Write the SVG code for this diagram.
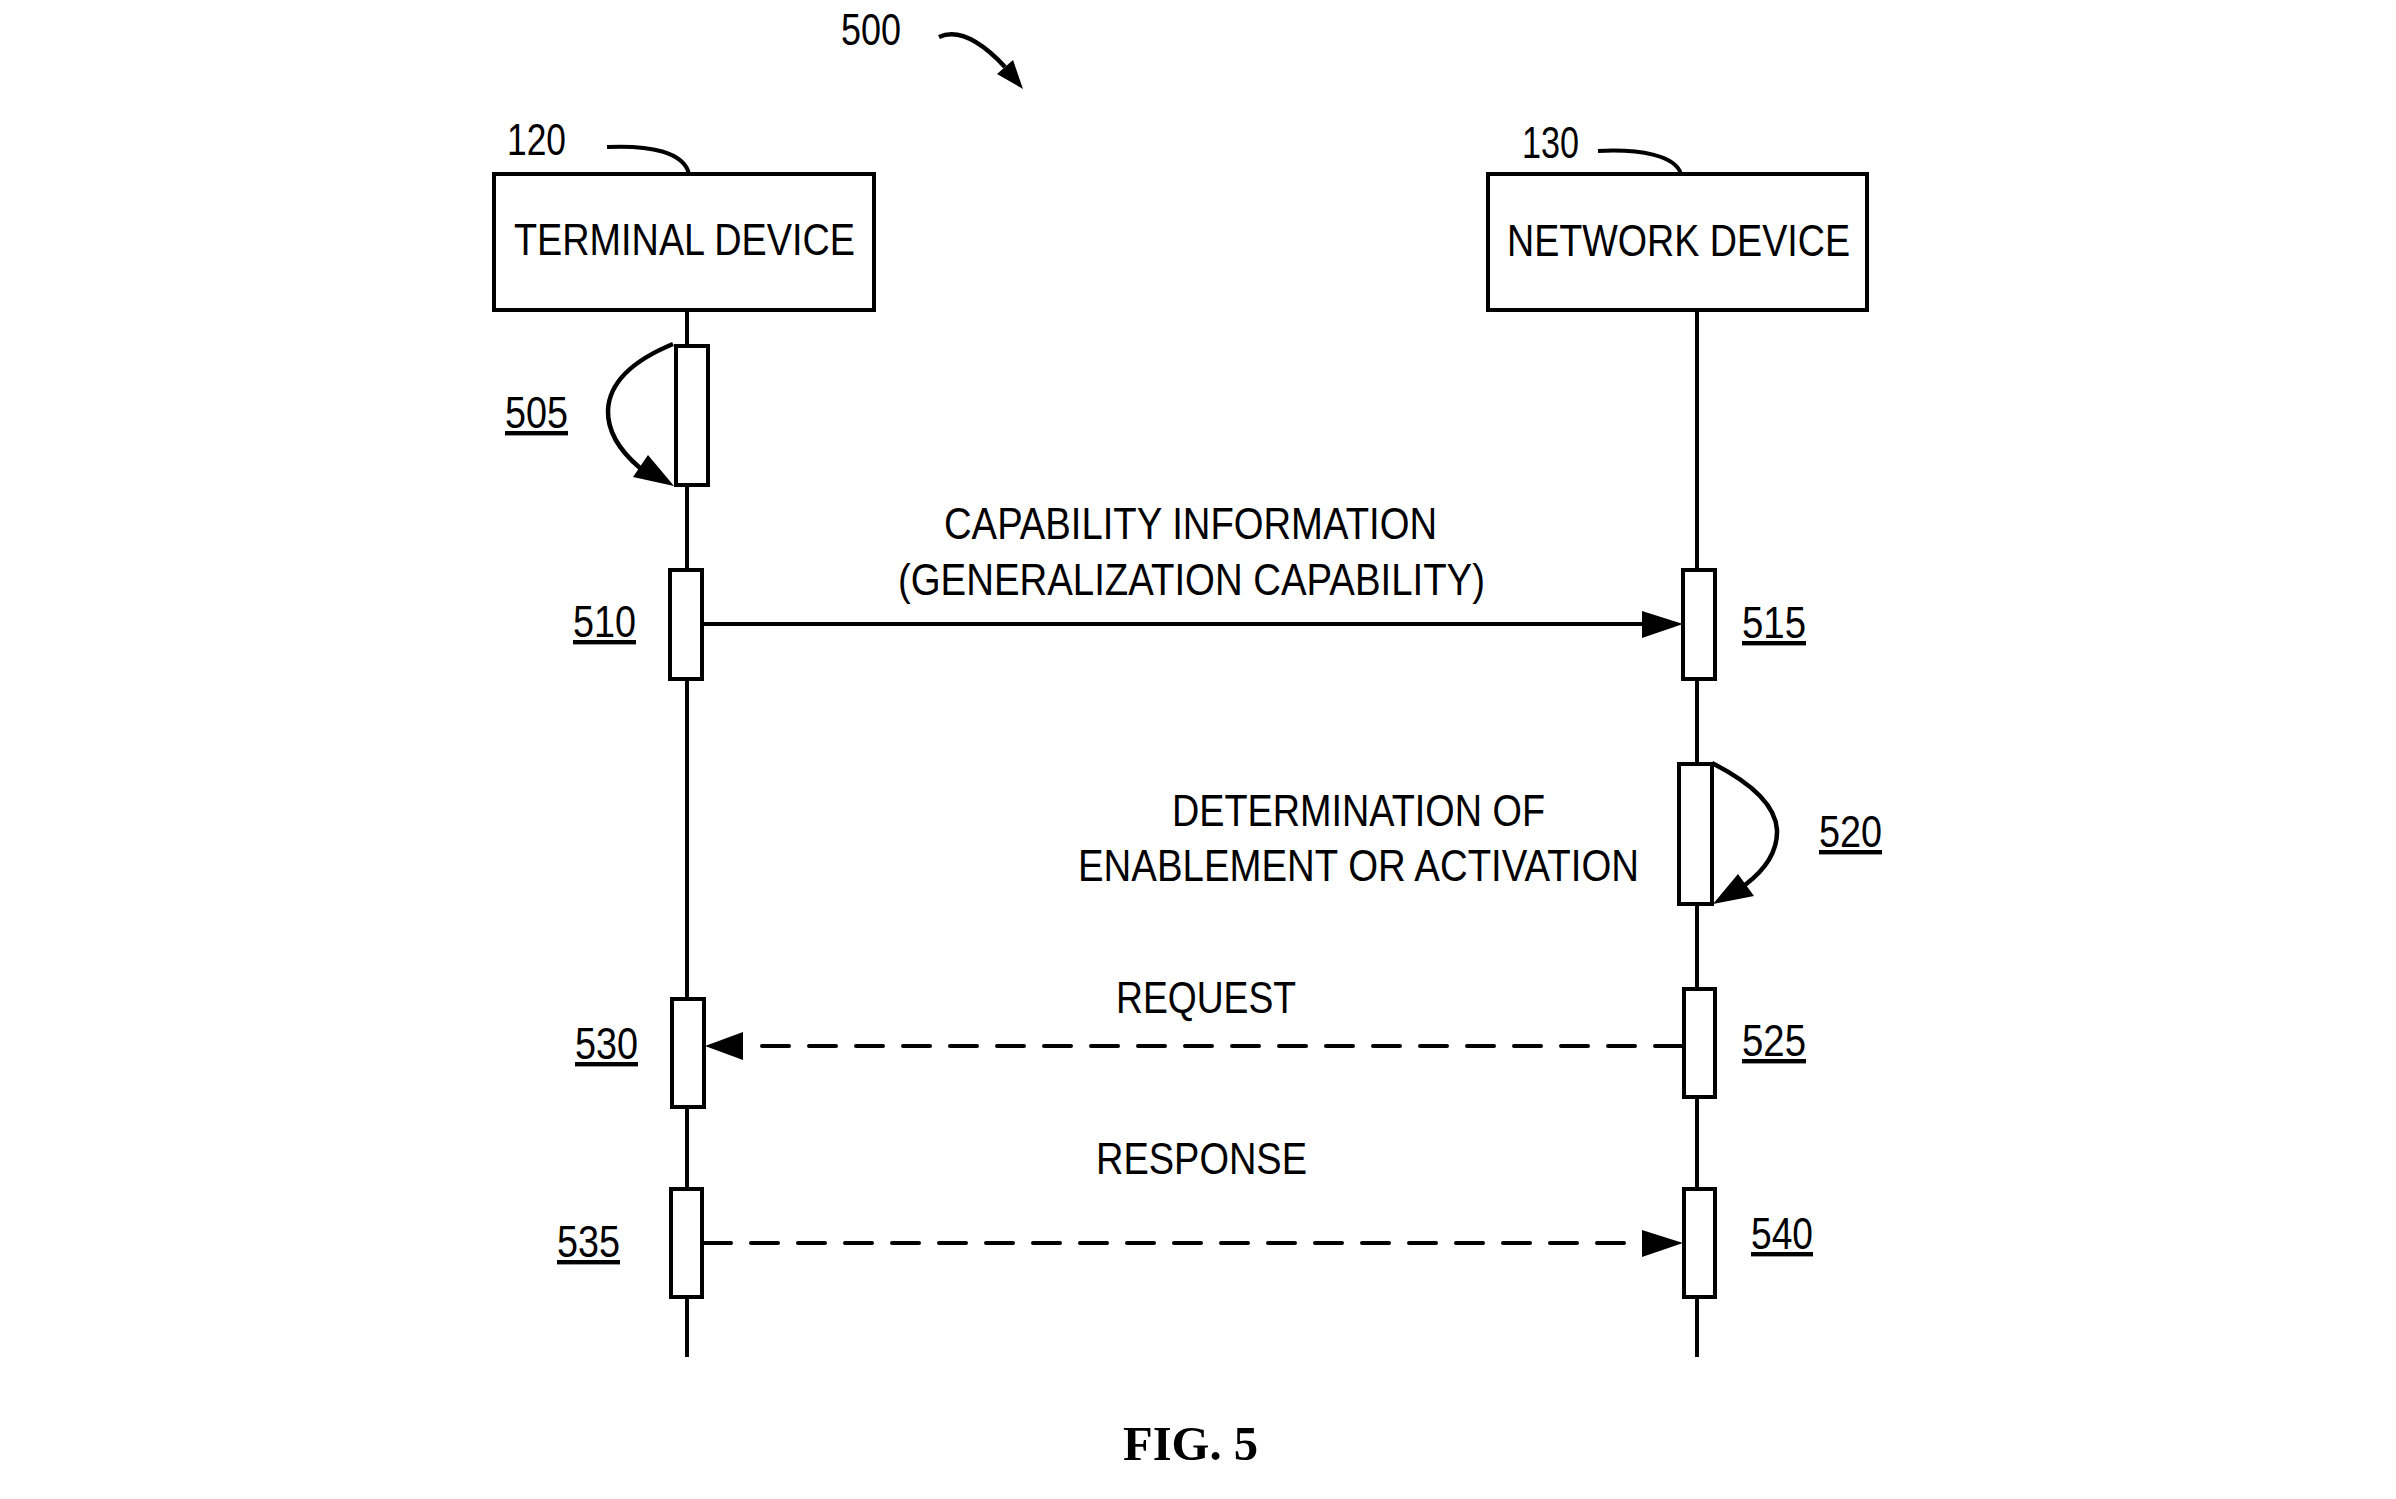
<svg xmlns="http://www.w3.org/2000/svg" width="2396" height="1499" viewBox="0 0 2396 1499">
<style>
.t{font-family:"Liberation Sans",Arial,sans-serif;font-size:44px;fill:#000}
.u{text-decoration:underline}
.box{fill:#fff;stroke:#000;stroke-width:4}
.act{fill:#fff;stroke:#000;stroke-width:4}
.ln{fill:none;stroke:#000;stroke-width:4}
.dash{fill:none;stroke:#000;stroke-width:4;stroke-dasharray:27 20;stroke-linecap:round}
.cur{fill:none;stroke:#000;stroke-width:4.5}
.fig{font-family:"Liberation Serif","Times New Roman",serif;font-size:48px;font-weight:bold;fill:#000}
</style>
<rect width="2396" height="1499" fill="#fff"/>
<g id="ref500">
<text class="t" x="841" y="45" textLength="60" lengthAdjust="spacingAndGlyphs">500</text>
<path class="cur" d="M939 37 C957 29 978 38 1005 67"/>
<polygon points="1023,89 997,74 1013,60"/>
</g>
<g id="lifelines">
<line class="ln" x1="687" y1="310" x2="687" y2="1357"/>
<line class="ln" x1="1697" y1="310" x2="1697" y2="1357"/>
</g>
<g id="terminal">
<rect class="box" x="494" y="174" width="380" height="136"/>
<text class="t" x="514" y="255" textLength="341" lengthAdjust="spacingAndGlyphs">TERMINAL DEVICE</text>
<text class="t" x="507" y="155" textLength="59" lengthAdjust="spacingAndGlyphs">120</text>
<path class="ln" d="M607 147 C650 145 684 152 689 174"/>
</g>
<g id="network">
<rect class="box" x="1488" y="174" width="379" height="136"/>
<text class="t" x="1507" y="256" textLength="343" lengthAdjust="spacingAndGlyphs">NETWORK DEVICE</text>
<text class="t" x="1522" y="158" textLength="57" lengthAdjust="spacingAndGlyphs">130</text>
<path class="ln" d="M1598 151 C1640 149 1675 155 1681 174"/>
</g>
<g id="step505">
<rect class="act" x="676" y="346" width="32" height="139"/>
<path class="cur" d="M673 344 Q610 370 608 410 Q607 440 640 468"/>
<polygon points="674,486 633,477 648,455"/>
<text class="t u" x="505" y="428" textLength="63" lengthAdjust="spacingAndGlyphs">505</text>
</g>
<g id="step510">
<rect class="act" x="670" y="570" width="32" height="109"/>
<text class="t u" x="573" y="637" textLength="63" lengthAdjust="spacingAndGlyphs">510</text>
</g>
<g id="step515">
<rect class="act" x="1683" y="570" width="32" height="109"/>
<text class="t u" x="1742" y="638" textLength="64" lengthAdjust="spacingAndGlyphs">515</text>
</g>
<g id="step520">
<rect class="act" x="1679" y="764" width="33" height="140"/>
<path class="cur" d="M1712 763 Q1775 795 1777 830 Q1778 860 1745 885"/>
<polygon points="1713,904 1738,874 1754,896"/>
<text class="t u" x="1819" y="847" textLength="63" lengthAdjust="spacingAndGlyphs">520</text>
<text class="t" x="1172" y="826" textLength="373" lengthAdjust="spacingAndGlyphs">DETERMINATION OF</text>
<text class="t" x="1078" y="881" textLength="561" lengthAdjust="spacingAndGlyphs">ENABLEMENT OR ACTIVATION</text>
</g>
<g id="step525">
<rect class="act" x="1684" y="989" width="31" height="108"/>
<text class="t u" x="1742" y="1056" textLength="64" lengthAdjust="spacingAndGlyphs">525</text>
</g>
<g id="step530">
<rect class="act" x="672" y="999" width="32" height="108"/>
<text class="t u" x="575" y="1059" textLength="63" lengthAdjust="spacingAndGlyphs">530</text>
</g>
<g id="step535">
<rect class="act" x="671" y="1189" width="31" height="108"/>
<text class="t u" x="557" y="1257" textLength="63" lengthAdjust="spacingAndGlyphs">535</text>
</g>
<g id="step540">
<rect class="act" x="1684" y="1189" width="31" height="108"/>
<text class="t u" x="1751" y="1249" textLength="62" lengthAdjust="spacingAndGlyphs">540</text>
</g>
<g id="connectors">
<line class="ln" x1="702" y1="624" x2="1645" y2="624"/>
<polygon points="1683,624 1642,611 1642,638"/>
<text class="t" x="944" y="539" textLength="493" lengthAdjust="spacingAndGlyphs">CAPABILITY INFORMATION</text>
<text class="t" x="898" y="595" textLength="587" lengthAdjust="spacingAndGlyphs">(GENERALIZATION CAPABILITY)</text>
<line class="dash" x1="1682" y1="1046" x2="745" y2="1046"/>
<polygon points="705,1046 743,1032 743,1060"/>
<text class="t" x="1116" y="1013" textLength="180" lengthAdjust="spacingAndGlyphs">REQUEST</text>
<line class="dash" x1="704" y1="1243" x2="1642" y2="1243"/>
<polygon points="1683,1243 1642,1230 1642,1257"/>
<text class="t" x="1096" y="1174" textLength="211" lengthAdjust="spacingAndGlyphs">RESPONSE</text>
</g>
<text class="fig" x="1123" y="1460" textLength="135" lengthAdjust="spacingAndGlyphs">FIG. 5</text>
</svg>
